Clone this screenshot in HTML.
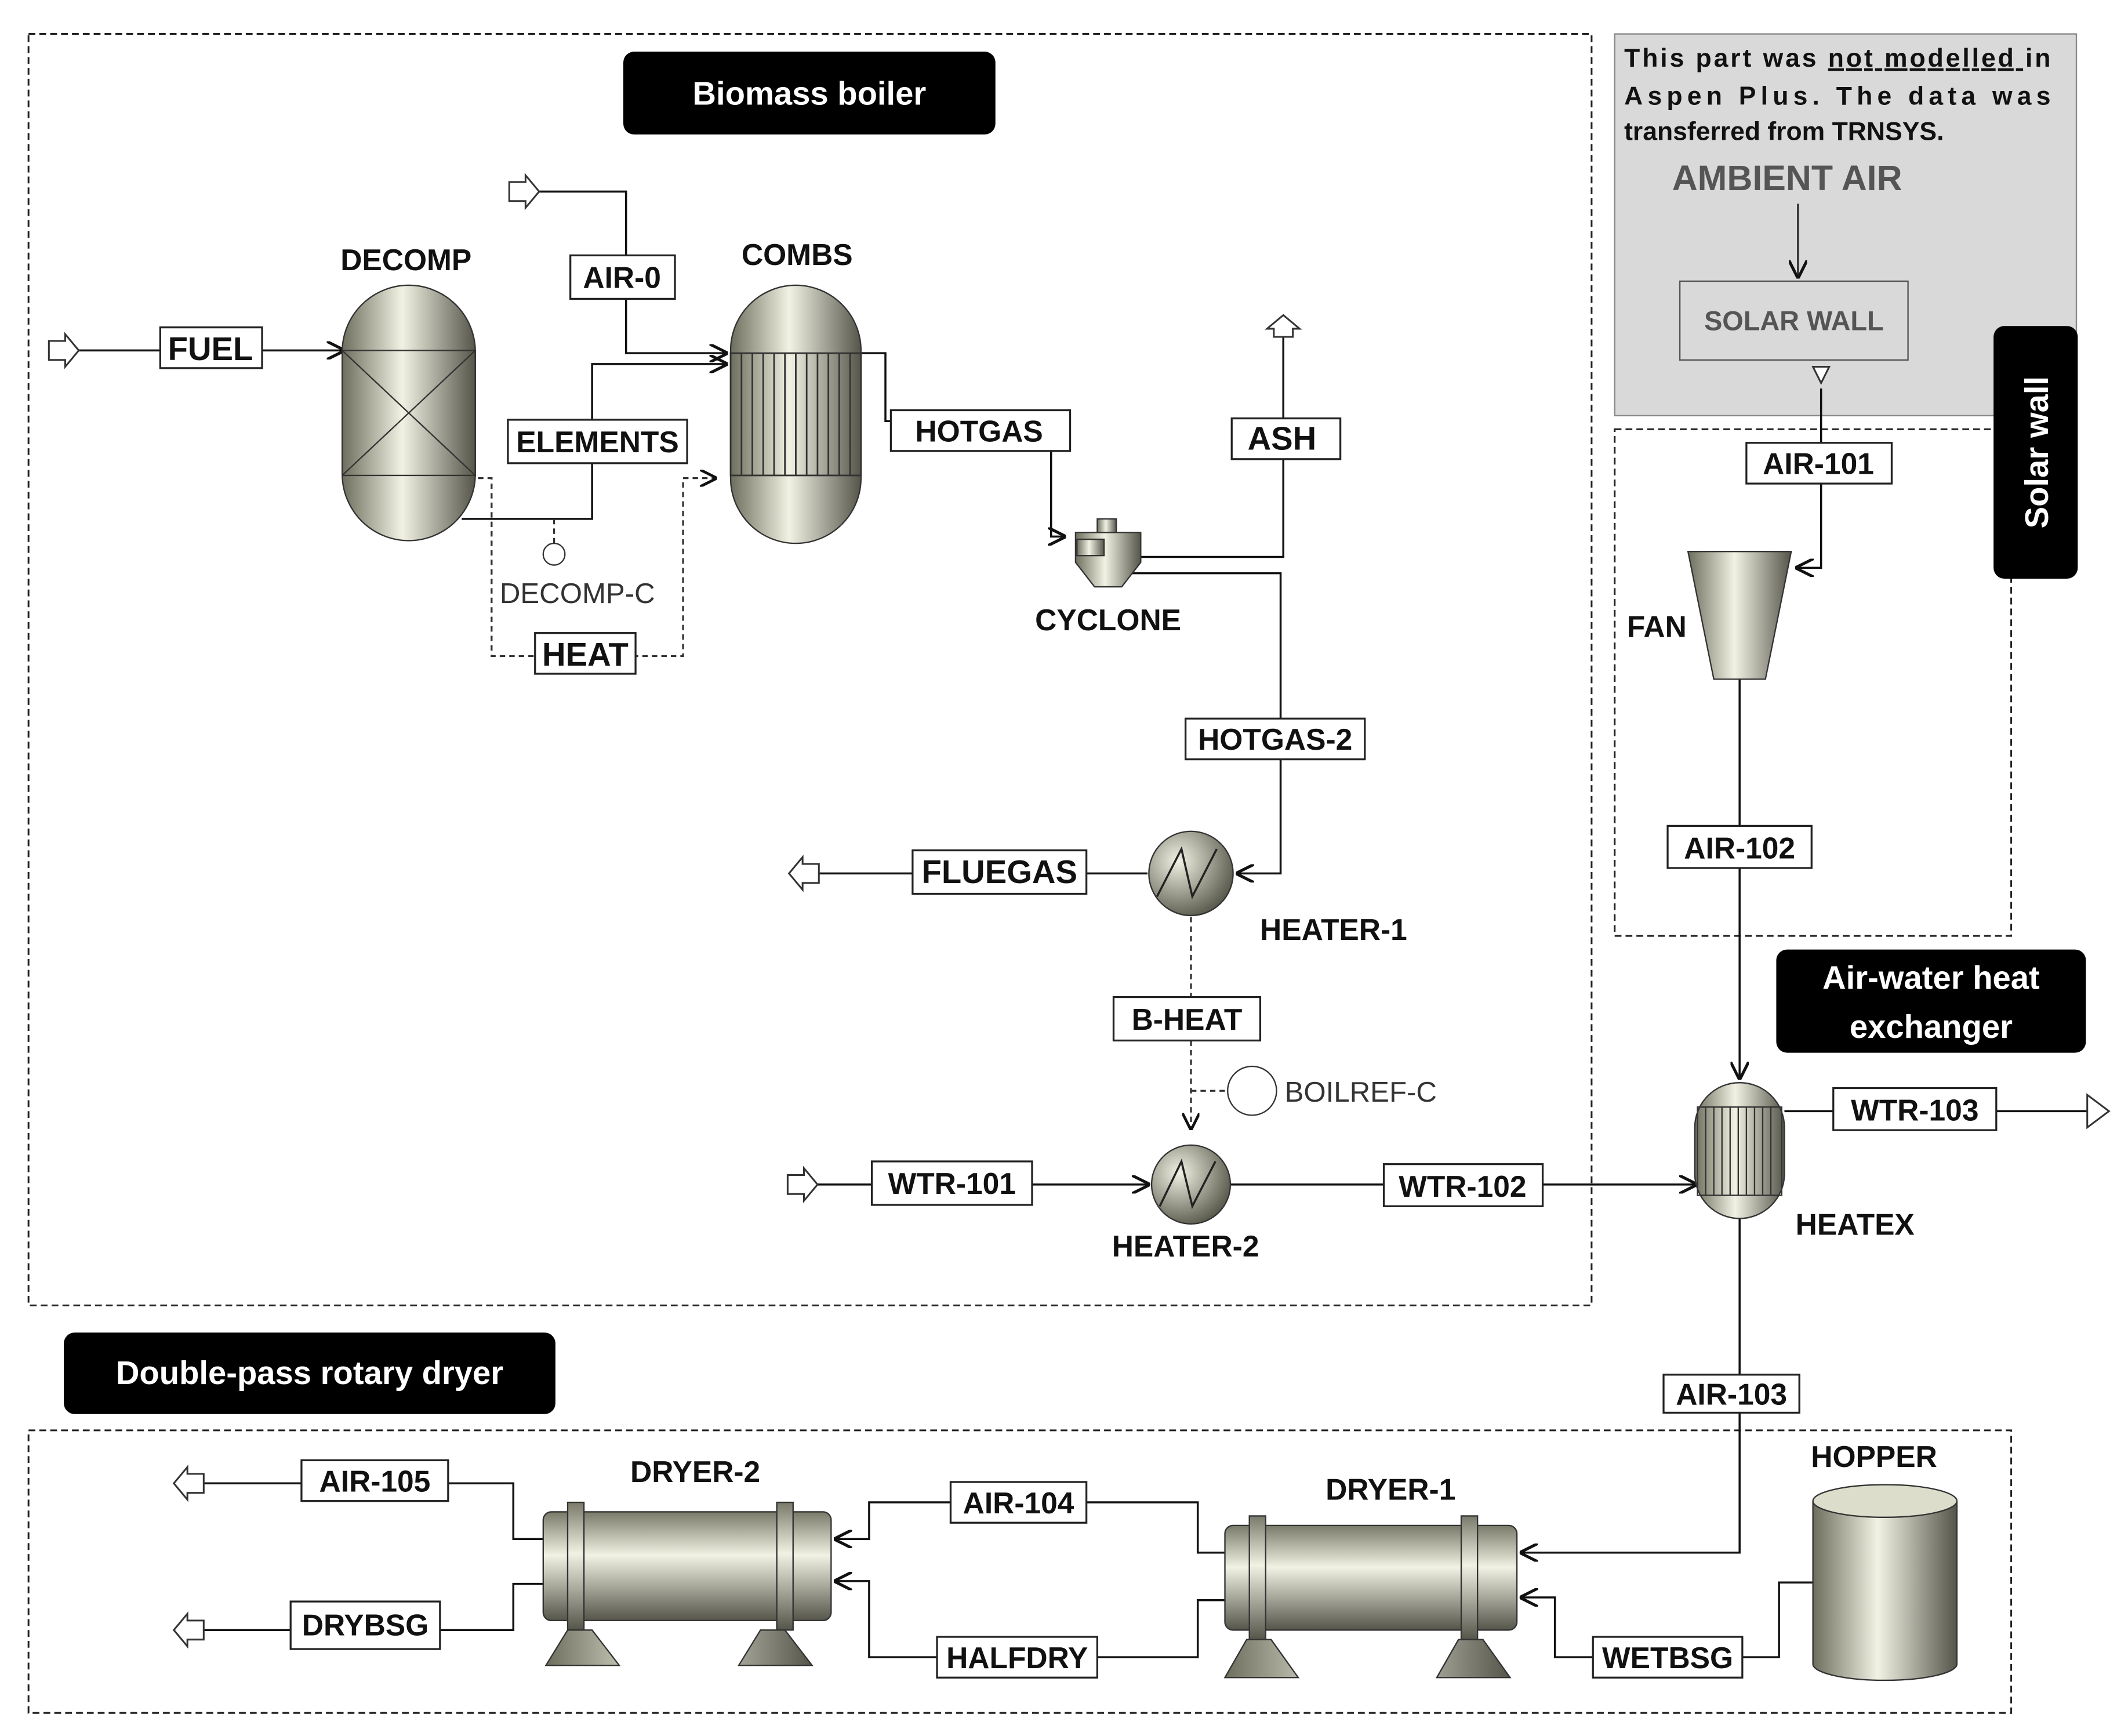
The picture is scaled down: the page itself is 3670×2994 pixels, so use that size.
<!DOCTYPE html>
<html><head><meta charset="utf-8"><style>
html,body{margin:0;padding:0;background:#fff}
svg{display:block}
text{font-family:"Liberation Sans",sans-serif}
.lb{font-weight:bold;font-size:22px;fill:#111}
.st{font-weight:bold;font-size:22px;fill:#111}
</style></head><body>
<svg width="3670" height="2994" viewBox="0 0 1567 1278" preserveAspectRatio="none" xmlns="http://www.w3.org/2000/svg">
<defs>
<linearGradient id="g" x1="0" x2="1" y1="0" y2="0">
<stop offset="0" stop-color="#6e6e5e"/><stop offset="0.45" stop-color="#f2f2e4"/><stop offset="1" stop-color="#55554a"/></linearGradient>
<linearGradient id="gv" x1="0" x2="0" y1="0" y2="1">
<stop offset="0" stop-color="#7a7a6a"/><stop offset="0.4" stop-color="#f2f2e4"/><stop offset="1" stop-color="#55554a"/></linearGradient>
<radialGradient id="gr" cx="0.35" cy="0.35" r="0.7"><stop offset="0" stop-color="#f2f2e4"/><stop offset="1" stop-color="#5a5a4c"/></radialGradient>
<marker id="a" viewBox="0 0 10 10" refX="10" refY="5" markerWidth="9" markerHeight="9" orient="auto"><path d="M0,0 L10,5 L0,10" fill="none" stroke="#111" stroke-width="1.6"/></marker>
</defs>
<rect width="1567" height="1278" fill="#fff"/>
<g fill="none" stroke="#222" stroke-width="1.3" stroke-dasharray="5,3">
<rect x="21" y="25" width="1151" height="936"/>
<rect x="1189" y="316" width="292" height="373"/>
<rect x="21" y="1053" width="1460" height="208"/>
</g>
<rect x="1189" y="25" width="340" height="281" fill="#d9d9d9" stroke="#888"/>
<text x="1196" y="49" font-size="19" font-weight="bold" fill="#111" textLength="314" lengthAdjust="spacing">This part was <tspan text-decoration="underline">not modelled </tspan>in</text>
<text x="1196" y="77" font-size="19" font-weight="bold" fill="#111" textLength="314" lengthAdjust="spacing">Aspen Plus. The data was</text>
<text x="1196" y="103" font-size="19" font-weight="bold" fill="#111">transferred from TRNSYS.</text>
<text x="1316" y="140" font-size="26" font-weight="bold" fill="#555" text-anchor="middle">AMBIENT AIR</text>
<rect x="1237" y="207" width="168" height="58" fill="#d9d9d9" stroke="#555"/>
<text x="1321" y="243" font-size="20" font-weight="bold" fill="#555" text-anchor="middle">SOLAR WALL</text>
<line x1="1324" y1="150" x2="1324" y2="205" stroke="#333" stroke-width="1.5" marker-end="url(#a)"/>
<g fill="#000"><rect x="459" y="38" width="274" height="61" rx="8"/><rect x="1468" y="240" width="62" height="186" rx="8"/><rect x="1308" y="699" width="228" height="76" rx="8"/><rect x="47" y="981" width="362" height="60" rx="8"/></g>
<g fill="#fff" font-weight="bold" font-size="24" text-anchor="middle">
<text x="596" y="77">Biomass boiler</text>
<text x="1422" y="728">Air-water heat</text><text x="1422" y="764">exchanger</text>
<text x="228" y="1019">Double-pass rotary dryer</text>
<text transform="translate(1508,333) rotate(-90)">Solar wall</text>
</g>
<g fill="none" stroke="#111" stroke-width="1.5">
<path d="M56,258 H254" marker-end="url(#a)"/>
<path d="M396,141 H461 V260 H536" marker-end="url(#a)"/>
<path d="M340,382 H436 V268 H536" marker-end="url(#a)"/>
<path d="M634,260 H652 V310 H774 V395 H785" marker-end="url(#a)"/>
<path d="M830,410 H945 V248"/>
<path d="M830,422 H943 V643 H910" marker-end="url(#a)"/>
<path d="M845,643 H603"/>
<path d="M599,872 H847" marker-end="url(#a)"/>
<path d="M906,872 H1250" marker-end="url(#a)"/>
<path d="M1314,818 H1545"/>
<path d="M1341,286 V418 H1322" marker-end="url(#a)"/>
<path d="M1281,500 V795" marker-end="url(#a)"/>
<path d="M1281,897 V1143 H1119" marker-end="url(#a)"/>
<path d="M1335,1165 H1310 V1220 H1145 V1176 H1119" marker-end="url(#a)"/>
<path d="M902,1143 H882 V1106 H640 V1133 H614" marker-end="url(#a)"/>
<path d="M902,1178 H882 V1220 H640 V1164 H614" marker-end="url(#a)"/>
<path d="M400,1133 H378 V1092 H150"/>
<path d="M400,1166 H378 V1200 H150"/>
</g>
<g fill="none" stroke="#333" stroke-width="1.4" stroke-dasharray="4,3">
<path d="M345,352 H362 V483 H503 V352 H528" marker-end="url(#a)"/>
<path d="M877,675 V832" marker-end="url(#a)"/>
<path d="M877,803 H905"/>
<path d="M408,382 V400"/>
</g>
<g fill="#fff" stroke="#333" stroke-width="1.3">
<path d="M36,251 h12 v-5 l10,12 l-10,12 v-5 h-12z"/>
<path d="M375,134 h12 v-5 l10,12 l-10,12 v-5 h-12z"/>
<path d="M580,865 h12 v-5 l10,12 l-10,12 v-5 h-12z"/>
<path d="M1537,811 v-5 l16,12 l-16,12 v-5z"/>
<path d="M603,636 h-12 v-5 l-10,12 l10,12 v-5 h12z"/>
<path d="M150,1085 h-12 v-5 l-10,12 l10,12 v-5 h12z"/>
<path d="M150,1193 h-12 v-5 l-10,12 l10,12 v-5 h12z"/>
<path d="M938,248 v-6 h-5 l12,-10 l12,10 h-5 v6z"/>
<path d="M1335,270 h12 l-6,12z"/>
</g>
<circle cx="408" cy="408" r="8" fill="#fff" stroke="#333"/>
<circle cx="922" cy="803" r="18" fill="#fff" stroke="#333"/>
<text x="368" y="444" font-size="21" fill="#333">DECOMP-C</text>
<text x="946" y="811" font-size="21" fill="#333">BOILREF-C</text>
<rect x="252" y="210" width="98" height="188" rx="49" fill="url(#g)" stroke="#333"/>
<rect x="252" y="258" width="98" height="92" fill="none" stroke="#333"/>
<path d="M252,258 L350,350 M350,258 L252,350" stroke="#333"/>
<rect x="538" y="210" width="96" height="190" rx="48" fill="url(#g)" stroke="#333"/>
<g stroke="#333" stroke-width="1.2"><rect x="538" y="260" width="96" height="90" fill="none"/>
<path d="M546,260V350M554,260V350M562,260V350M570,260V350M578,260V350M586,260V350M594,260V350M602,260V350M610,260V350M618,260V350M626,260V350"/></g>
<path d="M792,392 h48 v22 l-14,18 h-20 l-14,-18z" fill="url(#g)" stroke="#333"/>
<rect x="808" y="382" width="14" height="10" fill="url(#g)" stroke="#333"/>
<rect x="793" y="397" width="20" height="12" fill="url(#g)" stroke="#333"/>
<circle cx="877" cy="643" r="31" fill="url(#gr)" stroke="#333"/>
<path d="M852,660 L870,625 L878,660 L896,625" fill="none" stroke="#222" stroke-width="1.5"/>
<circle cx="877" cy="872" r="29" fill="url(#gr)" stroke="#333"/>
<path d="M854,888 L870,855 L878,888 L895,855" fill="none" stroke="#222" stroke-width="1.5"/>
<rect x="1248" y="797" width="66" height="100" rx="33" fill="url(#g)" stroke="#333"/>
<path d="M1250,815H1312V880H1250zM1256,815V880M1262,815V880M1268,815V880M1274,815V880M1280,815V880M1286,815V880M1292,815V880M1298,815V880M1304,815V880" fill="none" stroke="#333"/>
<path d="M1243,406 H1319 L1300,500 H1262z" fill="url(#g)" stroke="#333"/>
<path d="M1335,1105 V1225 A53,12 0 0 0 1441,1225 V1105" fill="url(#g)" stroke="#333"/>
<ellipse cx="1388" cy="1105" rx="53" ry="12" fill="#ddddcc" stroke="#333"/>
<g stroke="#333">
<rect x="400" y="1113" width="212" height="80" rx="6" fill="url(#gv)"/>
<rect x="418" y="1106" width="12" height="94" fill="url(#gv)"/><rect x="572" y="1106" width="12" height="94" fill="url(#gv)"/>
<path d="M418,1200 h18 l20,26 h-54z M560,1200 h18 l20,26 h-54z" fill="url(#g)"/>
<rect x="902" y="1123" width="215" height="77" rx="6" fill="url(#gv)"/>
<rect x="920" y="1116" width="12" height="91" fill="url(#gv)"/><rect x="1076" y="1116" width="12" height="91" fill="url(#gv)"/>
<path d="M918,1207 h18 l20,28 h-54z M1074,1207 h18 l20,28 h-54z" fill="url(#g)"/>
</g>
<g class="lb" text-anchor="middle">
<text x="299" y="199">DECOMP</text><text x="587" y="195">COMBS</text><text x="816" y="464">CYCLONE</text>
<text x="982" y="692">HEATER-1</text><text x="873" y="925">HEATER-2</text><text x="1366" y="909">HEATEX</text>
<text x="1220" y="469">FAN</text><text x="1380" y="1080">HOPPER</text><text x="512" y="1091">DRYER-2</text><text x="1024" y="1104">DRYER-1</text>
</g>
<g fill="#fff" stroke="#222" stroke-width="1.4">
<rect x="118" y="241" width="75" height="30"/><rect x="420" y="188" width="77" height="32"/><rect x="374" y="309" width="132" height="32"/>
<rect x="656" y="302" width="132" height="30"/><rect x="907" y="308" width="80" height="30"/><rect x="394" y="466" width="74" height="30"/>
<rect x="873" y="529" width="132" height="30"/><rect x="672" y="626" width="128" height="32"/><rect x="820" y="734" width="108" height="32"/>
<rect x="642" y="855" width="118" height="32"/><rect x="1019" y="857" width="117" height="31"/><rect x="1350" y="801" width="120" height="31"/>
<rect x="1286" y="326" width="107" height="30"/><rect x="1228" y="608" width="106" height="31"/><rect x="1225" y="1012" width="100" height="28"/>
<rect x="222" y="1075" width="108" height="30"/><rect x="700" y="1091" width="100" height="30"/><rect x="214" y="1179" width="110" height="35"/>
<rect x="690" y="1205" width="118" height="30"/><rect x="1173" y="1205" width="110" height="30"/>
</g>
<g class="st" text-anchor="middle">
<text x="155" y="265" font-size="24">FUEL</text><text x="458" y="212">AIR-0</text><text x="440" y="333">ELEMENTS</text>
<text x="721" y="325">HOTGAS</text><text x="944" y="331" font-size="24">ASH</text><text x="431" y="490" font-size="24">HEAT</text>
<text x="939" y="552">HOTGAS-2</text><text x="736" y="650" font-size="24">FLUEGAS</text><text x="874" y="758">B-HEAT</text>
<text x="701" y="879">WTR-101</text><text x="1077" y="881">WTR-102</text><text x="1410" y="825">WTR-103</text>
<text x="1339" y="349">AIR-101</text><text x="1281" y="632">AIR-102</text><text x="1275" y="1034">AIR-103</text>
<text x="276" y="1098">AIR-105</text><text x="750" y="1114">AIR-104</text><text x="269" y="1204">DRYBSG</text>
<text x="749" y="1228">HALFDRY</text><text x="1228" y="1228">WETBSG</text>
</g>
</svg>
</body></html>
